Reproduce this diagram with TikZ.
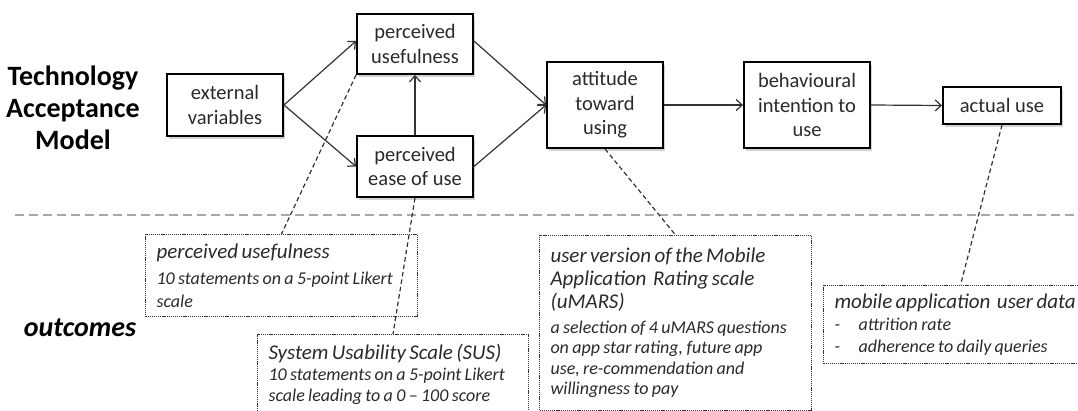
\documentclass[tikz,border=0pt]{standalone}
\usepackage{fontspec}
\setmainfont{Carlito}
\usetikzlibrary{arrows.meta,shadows}
\definecolor{linegray}{HTML}{333333}
\definecolor{textgray}{HTML}{2A2A2A}
\definecolor{sepgray}{HTML}{A8A8A8}
\begin{document}
\begin{tikzpicture}[x=1pt,y=-1pt,
  tambox/.style={draw=black,line width=1.9pt,fill=white,inner sep=0pt,align=center,
    text=textgray,font=\fontsize{20.5}{24.5}\selectfont,
    drop shadow={shadow xshift=2pt,shadow yshift=-3pt,opacity=0.35}},
  flow/.style={draw=linegray,line width=1.2pt,-{Straight Barb[length=6pt,width=11pt,line width=1.2pt]}},
  outbox/.style={draw=linegray,line width=1pt,dash pattern=on 1.2pt off 0.9pt,inner xsep=11pt,inner ysep=0pt,
    align=left,text=textgray,anchor=north west},
  link/.style={draw=linegray,line width=1.2pt,dash pattern=on 4.5pt off 3pt},
  sidelabel/.style={font=\fontsize{28}{32}\selectfont\bfseries,text=black,align=center},
]
\useasboundingbox (0,0) rectangle (1078,411);

% side labels
\node[sidelabel] (tamlabel) at (73,108) {Technology\\Acceptance\\Model};
\node[sidelabel,font=\fontsize{28}{32}\selectfont\bfseries\itshape] (outlabel) at (80,328) {outcomes};

% separator
\coordinate (sepL) at (15,215);
\coordinate (sepR) at (1078,215);
\draw[sepgray,line width=1.2pt,dash pattern=on 9pt off 5pt] (sepL) -- (sepR);

% TAM boxes
\node[tambox,minimum width=116pt,minimum height=62pt] (ext) at (225,105) {external\\variables};
\node[tambox,minimum width=116pt,minimum height=60pt] (pu) at (415,44) {perceived\\usefulness};
\node[tambox,minimum width=116pt,minimum height=61pt] (peou) at (415,166.5) {perceived\\ease of use};
\node[tambox,minimum width=116pt,minimum height=86pt] (att) at (605,105) {attitude\\toward\\using};
\node[tambox,minimum width=126pt,minimum height=86pt] (beh) at (807,105) {behavioural\\intention to\\use};
\node[tambox,minimum width=118pt,minimum height=37pt] (act) at (1002,105.5) {actual use};

% arrows
\draw[flow] (ext.east) -- ([yshift=3pt]pu.west);
\draw[flow] (ext.east) -- (peou.west);
\draw[flow] (peou.north) -- (pu.south);
\draw[flow] ([yshift=3pt]pu.east) -- (att.west);
\draw[flow] (peou.east) -- (att.west);
\draw[flow] (att.east) -- (beh.west);
\draw[flow] (beh.east) -- (act.west);

% outcome boxes
\node[outbox,text width=250pt,minimum height=82pt] (puout) at (145,234)
  {{\fontsize{21}{23}\selectfont\itshape perceived usefulness\par}\vspace{3pt}%
   {\fontsize{18}{23}\selectfont\itshape 10 statements on a 5-point Likert\\scale\par}};
\node[outbox,text width=249pt,minimum height=80pt] (sus) at (257,334)
  {{\fontsize{21}{23}\selectfont\itshape System Usability Scale (SUS)\par}%
   {\fontsize{18}{21}\selectfont\itshape 10 statements on a 5-point Likert\\scale leading to a 0 -- 100 score\par}};
\node[outbox,text width=250pt,minimum height=175pt] (umars) at (539,235)
  {{\fontsize{21}{23}\selectfont\itshape user version of the Mobile\\Application\ \ Rating scale\\(uMARS)\par}\vspace{4pt}%
   {\fontsize{18}{20.5}\selectfont\itshape a selection of 4 uMARS questions\\on app star rating, future app\\use, re-commendation and\\willingness to pay\par}};
\node[outbox,text width=252pt,minimum height=78pt] (mob) at (823,285)
  {{\fontsize{21}{22}\selectfont\itshape mobile application\ \ user data\par}%
   {\fontsize{18}{22}\selectfont\itshape \makebox[24pt][l]{-}attrition rate\\\makebox[24pt][l]{-}adherence to daily queries\par}};

% dashed links
\draw[link] (pu.south west) -- (puout.north);
\draw[link] (peou.south) -- (sus.north);
\draw[link] (att.south) -- (umars.north);
\draw[link] (act.south) -- (mob.north);
\end{tikzpicture}
\end{document}
